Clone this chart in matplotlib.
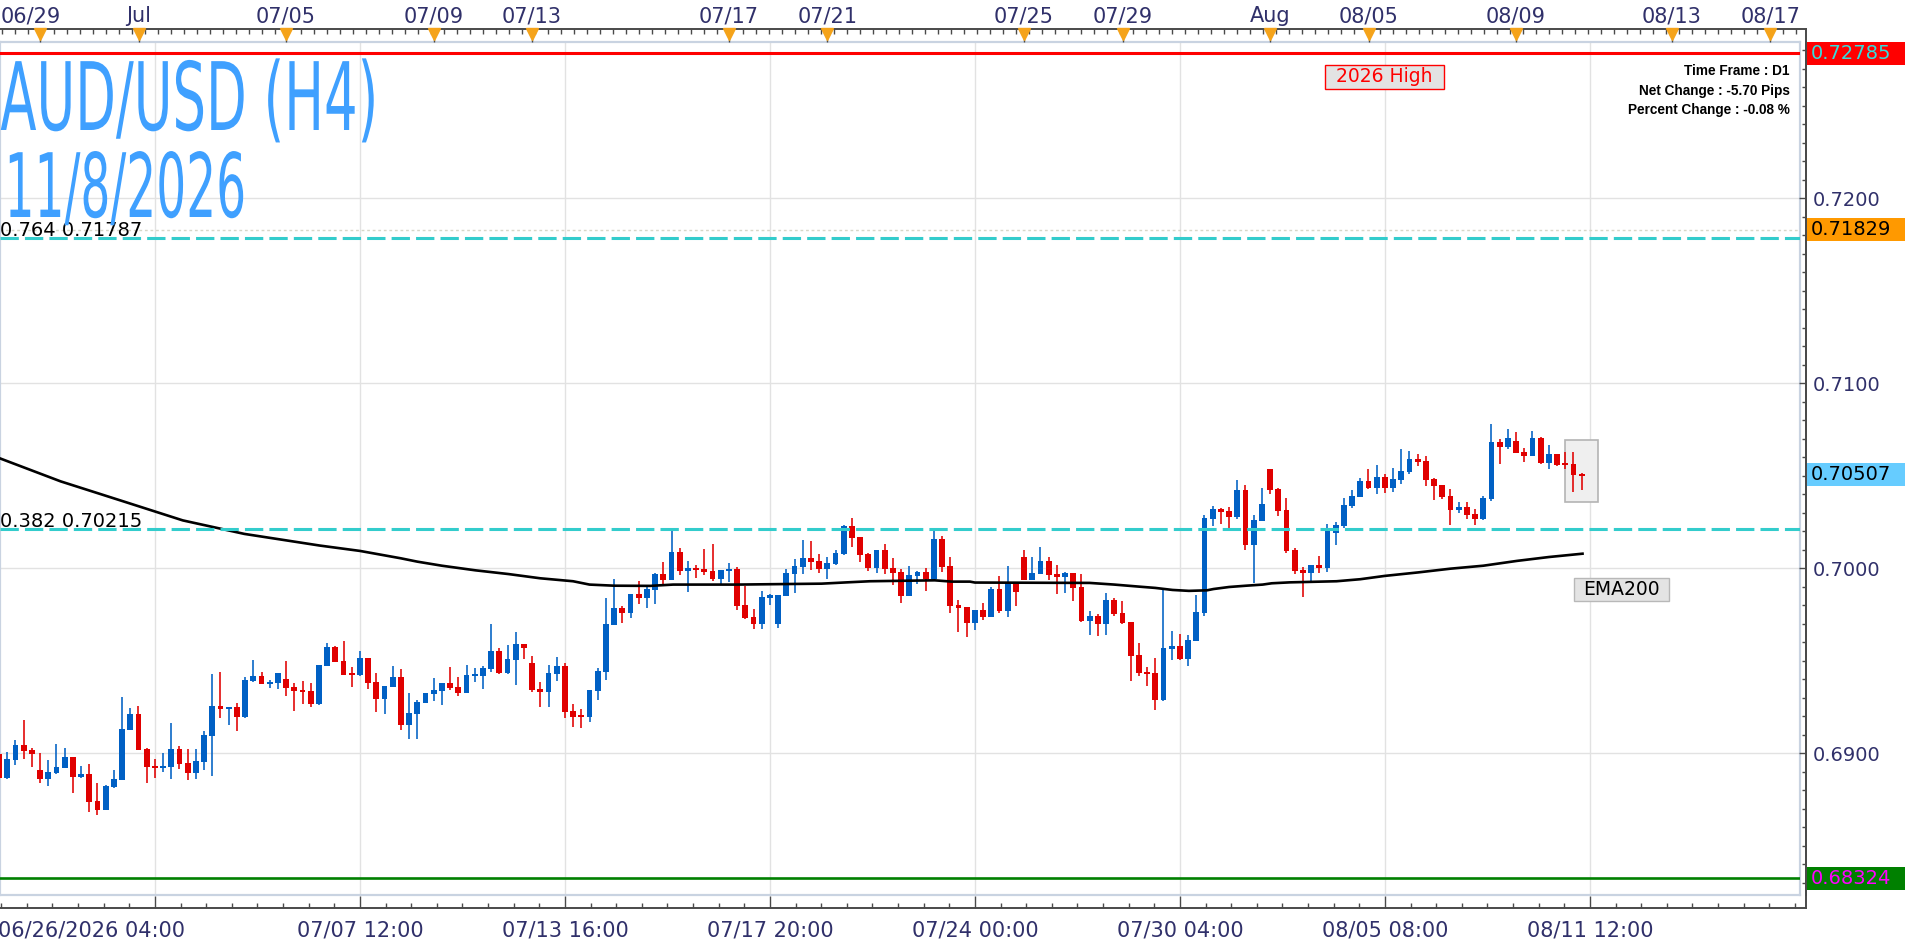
import matplotlib
matplotlib.use('Agg')
import numpy as np
import matplotlib.pyplot as plt
from matplotlib.patches import Rectangle
from matplotlib.lines import Line2D
from matplotlib.transforms import Affine2D, blended_transform_factory
from matplotlib.patheffects import AbstractPathEffect
from matplotlib.ticker import FixedLocator

# ---------------- data ----------------
opens = [0.68996, 0.68868, 0.68964, 0.69045, 0.69018, 0.68910, 0.68861, 0.68894, 0.68921, 0.68980,
         0.68872, 0.68888, 0.68742, 0.68694, 0.68818, 0.68856, 0.69126, 0.69213, 0.69023, 0.68932,
         0.68921, 0.68926, 0.69023, 0.68948, 0.68894, 0.68953, 0.69094, 0.69256, 0.69240, 0.69250,
         0.69196, 0.69391, 0.69418, 0.69375, 0.69380, 0.69402, 0.69359, 0.69342, 0.69337, 0.69267,
         0.69472, 0.69575, 0.69499, 0.69429, 0.69423, 0.69515, 0.69386, 0.69294, 0.69359, 0.69413,
         0.69153, 0.69213, 0.69272, 0.69321, 0.69337, 0.69380, 0.69359, 0.69326, 0.69420, 0.69418,
         0.69456, 0.69553, 0.69434, 0.69505, 0.69591, 0.69488, 0.69348, 0.69332, 0.69429, 0.69472,
         0.69229, 0.69202, 0.69196, 0.69337, 0.69440, 0.69694, 0.69786, 0.69759, 0.69861, 0.69840,
         0.69883, 0.69969, 0.69937, 0.70088, 0.69986, 0.70002, 0.69996, 0.69986, 0.69942, 0.69986,
         0.69996, 0.69802, 0.69737, 0.69699, 0.69840, 0.69699, 0.69850, 0.69969, 0.70007, 0.70056,
         0.70040, 0.69996, 0.70023, 0.70077, 0.70229, 0.70169, 0.70077, 0.70002, 0.70099, 0.70002,
         0.69980, 0.69850, 0.69959, 0.69980, 0.69942, 0.70159, 0.70013, 0.69802, 0.69791, 0.69705,
         0.69775, 0.69737, 0.69888, 0.69769, 0.69921, 0.70061, 0.69937, 0.69969, 0.70040, 0.69969,
         0.69953, 0.69975, 0.69899, 0.69715, 0.69742, 0.69699, 0.69829, 0.69759, 0.69710, 0.69532,
         0.69440, 0.69434, 0.69288, 0.69564, 0.69580, 0.69510, 0.69607, 0.69759, 0.70267, 0.70321,
         0.70310, 0.70277, 0.70423, 0.70126, 0.70256, 0.70537, 0.70429, 0.70315, 0.70099, 0.69991,
         0.69975, 0.70018, 0.70002, 0.70191, 0.70229, 0.70337, 0.70386, 0.70472, 0.70434, 0.70494,
         0.70434, 0.70477, 0.70521, 0.70591, 0.70580, 0.70483, 0.70450, 0.70391, 0.70315, 0.70332,
         0.70294, 0.70267, 0.70375, 0.70683, 0.70656, 0.70688, 0.70629, 0.70607, 0.70705, 0.70569,
         0.70618, 0.70564, 0.70564, 0.70510]
highs = [0.69006, 0.69005, 0.69072, 0.69180, 0.69027, 0.69002, 0.68964, 0.69050, 0.69029, 0.68980,
         0.68932, 0.68942, 0.68840, 0.68829, 0.68910, 0.69305, 0.69245, 0.69256, 0.69029, 0.68969,
         0.69002, 0.69164, 0.69040, 0.69023, 0.69023, 0.69121, 0.69429, 0.69440, 0.69250, 0.69272,
         0.69413, 0.69505, 0.69440, 0.69396, 0.69434, 0.69499, 0.69380, 0.69391, 0.69380, 0.69477,
         0.69596, 0.69580, 0.69607, 0.69467, 0.69553, 0.69515, 0.69434, 0.69364, 0.69472, 0.69456,
         0.69326, 0.69288, 0.69326, 0.69407, 0.69380, 0.69467, 0.69413, 0.69477, 0.69461, 0.69472,
         0.69699, 0.69569, 0.69586, 0.69656, 0.69591, 0.69526, 0.69386, 0.69477, 0.69521, 0.69488,
         0.69267, 0.69240, 0.69342, 0.69461, 0.69840, 0.69942, 0.69796, 0.69861, 0.69932, 0.69910,
         0.69975, 0.70034, 0.70202, 0.70110, 0.70040, 0.70018, 0.70105, 0.70132, 0.69991, 0.70029,
         0.70007, 0.69905, 0.69780, 0.69877, 0.69861, 0.69856, 0.69996, 0.70050, 0.70153, 0.70148,
         0.70077, 0.70061, 0.70099, 0.70234, 0.70272, 0.70169, 0.70083, 0.70099, 0.70132, 0.70056,
         0.69996, 0.70013, 0.69986, 0.70002, 0.70202, 0.70175, 0.70061, 0.69829, 0.69791, 0.69775,
         0.69813, 0.69899, 0.69959, 0.70013, 0.69921, 0.70099, 0.70061, 0.70115, 0.70061, 0.70018,
         0.69980, 0.69975, 0.69969, 0.69769, 0.69753, 0.69867, 0.69840, 0.69823, 0.69710, 0.69596,
         0.69467, 0.69515, 0.69883, 0.69661, 0.69647, 0.69640, 0.69856, 0.70288, 0.70337, 0.70326,
         0.70332, 0.70477, 0.70450, 0.70288, 0.70434, 0.70537, 0.70434, 0.70380, 0.70110, 0.70007,
         0.70018, 0.70067, 0.70240, 0.70250, 0.70380, 0.70423, 0.70488, 0.70537, 0.70559, 0.70510,
         0.70542, 0.70645, 0.70634, 0.70618, 0.70607, 0.70488, 0.70450, 0.70429, 0.70359, 0.70359,
         0.70321, 0.70391, 0.70780, 0.70699, 0.70753, 0.70737, 0.70650, 0.70742, 0.70710, 0.70667,
         0.70618, 0.70629, 0.70629, 0.70515]
lows = [0.68861, 0.68861, 0.68937, 0.68969, 0.68928, 0.68841, 0.68823, 0.68888, 0.68921, 0.68786,
        0.68868, 0.68683, 0.68667, 0.68694, 0.68813, 0.68856, 0.69126, 0.69018, 0.68840, 0.68867,
        0.68899, 0.68861, 0.68915, 0.68856, 0.68861, 0.68910, 0.68877, 0.69191, 0.69153, 0.69121,
        0.69191, 0.69386, 0.69375, 0.69353, 0.69348, 0.69310, 0.69229, 0.69267, 0.69250, 0.69261,
        0.69472, 0.69494, 0.69423, 0.69359, 0.69418, 0.69348, 0.69223, 0.69213, 0.69359, 0.69126,
        0.69077, 0.69077, 0.69272, 0.69283, 0.69261, 0.69342, 0.69310, 0.69326, 0.69386, 0.69348,
        0.69440, 0.69429, 0.69429, 0.69369, 0.69510, 0.69332, 0.69250, 0.69250, 0.69391, 0.69191,
        0.69142, 0.69137, 0.69169, 0.69288, 0.69396, 0.69694, 0.69705, 0.69732, 0.69807, 0.69786,
        0.69807, 0.69910, 0.69937, 0.69964, 0.69872, 0.69948, 0.69964, 0.69932, 0.69915, 0.69926,
        0.69775, 0.69726, 0.69672, 0.69672, 0.69802, 0.69677, 0.69850, 0.69867, 0.69969, 0.69991,
        0.69975, 0.69942, 0.70018, 0.70072, 0.70115, 0.70034, 0.69986, 0.69975, 0.69969, 0.69910,
        0.69813, 0.69850, 0.69915, 0.69877, 0.69942, 0.69980, 0.69759, 0.69656, 0.69629, 0.69667,
        0.69721, 0.69737, 0.69759, 0.69737, 0.69796, 0.69937, 0.69937, 0.69969, 0.69937, 0.69861,
        0.69867, 0.69823, 0.69710, 0.69640, 0.69634, 0.69640, 0.69742, 0.69699, 0.69391, 0.69418,
        0.69364, 0.69234, 0.69283, 0.69505, 0.69505, 0.69472, 0.69607, 0.69742, 0.70229, 0.70240,
        0.70213, 0.70267, 0.70099, 0.69921, 0.70256, 0.70402, 0.70283, 0.70083, 0.69969, 0.69845,
        0.69926, 0.69975, 0.69980, 0.70126, 0.70218, 0.70326, 0.70386, 0.70429, 0.70402, 0.70407,
        0.70413, 0.70456, 0.70510, 0.70553, 0.70445, 0.70369, 0.70375, 0.70234, 0.70299, 0.70267,
        0.70234, 0.70261, 0.70364, 0.70564, 0.70645, 0.70623, 0.70575, 0.70607, 0.70564, 0.70537,
        0.70553, 0.70537, 0.70413, 0.70423]
closes = [0.68868, 0.68969, 0.69045, 0.69013, 0.68996, 0.68861, 0.68899, 0.68926, 0.68980, 0.68874,
          0.68888, 0.68737, 0.68694, 0.68823, 0.68861, 0.69132, 0.69213, 0.69018, 0.68926, 0.68921,
          0.68932, 0.69023, 0.68942, 0.68894, 0.68959, 0.69099, 0.69256, 0.69240, 0.69250, 0.69196,
          0.69396, 0.69418, 0.69375, 0.69386, 0.69434, 0.69353, 0.69337, 0.69332, 0.69267, 0.69477,
          0.69575, 0.69494, 0.69423, 0.69425, 0.69515, 0.69380, 0.69294, 0.69364, 0.69413, 0.69153,
          0.69218, 0.69277, 0.69326, 0.69342, 0.69380, 0.69353, 0.69326, 0.69423, 0.69423, 0.69461,
          0.69553, 0.69434, 0.69510, 0.69591, 0.69571, 0.69342, 0.69332, 0.69434, 0.69472, 0.69223,
          0.69196, 0.69198, 0.69342, 0.69445, 0.69699, 0.69786, 0.69759, 0.69861, 0.69840, 0.69888,
          0.69969, 0.69937, 0.70088, 0.69986, 0.70002, 0.69991, 0.69980, 0.69942, 0.69991, 0.69996,
          0.69796, 0.69732, 0.69699, 0.69845, 0.69856, 0.69856, 0.69975, 0.70013, 0.70056, 0.70034,
          0.69996, 0.70029, 0.70083, 0.70229, 0.70164, 0.70072, 0.70002, 0.70099, 0.69996, 0.69975,
          0.69850, 0.69964, 0.69980, 0.69942, 0.70159, 0.70007, 0.69796, 0.69786, 0.69705, 0.69775,
          0.69737, 0.69888, 0.69769, 0.69921, 0.69872, 0.69937, 0.69975, 0.70040, 0.69964, 0.69953,
          0.69975, 0.69894, 0.69715, 0.69742, 0.69699, 0.69829, 0.69753, 0.69705, 0.69526, 0.69434,
          0.69429, 0.69288, 0.69569, 0.69580, 0.69510, 0.69613, 0.69764, 0.70272, 0.70321, 0.70305,
          0.70277, 0.70423, 0.70126, 0.70261, 0.70348, 0.70423, 0.70310, 0.70094, 0.69986, 0.69975,
          0.70018, 0.70002, 0.70202, 0.70234, 0.70342, 0.70391, 0.70472, 0.70434, 0.70494, 0.70434,
          0.70483, 0.70526, 0.70591, 0.70575, 0.70477, 0.70445, 0.70386, 0.70315, 0.70332, 0.70288,
          0.70267, 0.70380, 0.70683, 0.70656, 0.70705, 0.70623, 0.70607, 0.70705, 0.70569, 0.70618,
          0.70559, 0.70560, 0.70505, 0.70499]

ema_bars = [0, 7.5, 15, 22.4, 29.9, 39.1, 44.0, 49.0, 51.0, 54.0, 58.1, 62.1, 66.0, 70.0, 72.0,
            75.0, 79.4, 82.2, 90.0, 100.3, 103.4, 106.2, 114.1, 116.2, 118.4, 119.0, 133.0, 136.0,
            139.0, 141.0, 143.1, 145.1, 147.3, 148.1, 150.0, 152.1, 154.1, 155.2, 157.4, 163.1,
            166.0, 169.0, 173.1, 177.0, 181.0, 185.1, 189.0, 193.1]
ema_vals = [0.70596, 0.70470, 0.70364, 0.70259, 0.70186, 0.70123, 0.70094, 0.70054, 0.70036,
            0.70014, 0.69989, 0.69969, 0.69946, 0.69930, 0.69912, 0.69906, 0.69905, 0.69912,
            0.69912, 0.69917, 0.69924, 0.69930, 0.69935, 0.69928, 0.69928, 0.69923, 0.69921,
            0.69912, 0.69901, 0.69894, 0.69883, 0.69878, 0.69881, 0.69888, 0.69899, 0.69906,
            0.69912, 0.69919, 0.69924, 0.69930, 0.69941, 0.69959, 0.69978, 0.69998, 0.70014,
            0.70040, 0.70061, 0.70079]

high_2026 = 0.72785
low_level = 0.68324
fib_levels = [0.71787, 0.70215]
fib_labels = ['0.764 0.71787', '0.382 0.70215']
orange_level = 0.71829
last_price = 0.70507

price_ticks = [0.6900, 0.7000, 0.7100, 0.7200]
price_tick_labels = ['0.6900', '0.7000', '0.7100', '0.7200']

grid_bars = [19, 44, 69, 94, 119, 144, 169, 194]
bottom_labels = ['', '07/07 12:00', '07/13 16:00', '07/17 20:00', '07/24 00:00',
                 '07/30 04:00', '08/05 08:00', '08/11 12:00']
first_bottom_label = '06/26/2026 04:00'

top_bars = [5, 17, 35, 53, 65, 89, 101, 125, 137, 155, 167, 185, 204, 216]
top_labels = ['06/29', 'Jul', '07/05', '07/09', '07/13', '07/17', '07/21', '07/25',
              '07/29', 'Aug', '08/05', '08/09', '08/13', '08/17']

info_lines = ['Time Frame : D1', 'Net Change : -5.70 Pips', 'Percent Change : -0.08 %']

# ---------------- layout ----------------
W, H = 1907, 948
fig = plt.figure(figsize=(W / 100, H / 100), dpi=100)
fig.patch.set_facecolor('white')


def fx(px):
    return px / W


def fy(py):
    return 1 - py / H


PLOT_R, PLOT_T, PLOT_B = 1800, 42, 895
AX_R, AX_T, AX_B = 1806, 29, 908
BAR_PX, BAR0_PX = 8.2, -0.9


def px2bar(px):
    return (px - BAR0_PX) / BAR_PX


YMIN, YMAX = 0.68234, 0.72845
UNIT_PER_PX = (YMAX - YMIN) / (PLOT_B - PLOT_T)

NAVY = '#30306a'
AXCOL = '#4a4a4a'


class Squeeze(AbstractPathEffect):
    """Horizontally condense a text path about its left ink edge."""

    def __init__(self, sx):
        super().__init__()
        self.sx = sx

    def draw_path(self, renderer, gc, tpath, affine, rgbFace=None):
        ext = tpath.get_extents(affine)
        x0 = ext.x0
        aff = affine + Affine2D().translate(-x0, 0).scale(self.sx, 1.0).translate(x0, 0)
        renderer.draw_path(gc, tpath, aff, rgbFace)


# main plot
ax = fig.add_axes([0, fy(PLOT_B), fx(PLOT_R), (PLOT_B - PLOT_T) / H])
ax.set_xlim(px2bar(0), px2bar(PLOT_R))
ax.set_ylim(YMIN, YMAX)
ax.set_facecolor('white')
for s in ax.spines.values():
    s.set_color('#c9d3e1')
    s.set_linewidth(1.6)
ax.set_xticks(grid_bars)
ax.set_yticks(price_ticks)
ax.tick_params(length=0, labelbottom=False, labelleft=False)
ax.grid(True, color='#e2e2e2', lw=1.0)
ax.set_axisbelow(True)

# level lines
ax.axhline(high_2026, color='#ff0000', lw=2.2, zorder=5)
ax.axhline(low_level, color='#008000', lw=1.9, zorder=5)
ax.axhline(orange_level, color='#d6d6c8', lw=1.0, ls=(0, (2, 2)), zorder=1)
for lv in fib_levels:
    ax.axhline(lv, color='#33cccc', lw=2.2, ls=(0, (6, 2)), zorder=5)
for lv, lab in zip(fib_levels, fib_labels):
    ax.text(px2bar(0), lv + 2 * UNIT_PER_PX, lab, ha='left', va='baseline',
            fontsize=14, color='black', zorder=6)

# highlight box around the latest candles
ax.add_patch(Rectangle((190.95, 0.70358), 4.05, 0.00336, fc='#efefef', ec='#b4b4b4',
                       lw=1.2, zorder=2.5))

# candles
o = np.array(opens)
h = np.array(highs)
l = np.array(lows)
c = np.array(closes)
idx = np.arange(len(o))
cols = np.where(c >= o, '#0060c4', '#e00000')
ax.vlines(idx, l, h, colors=cols, lw=1.15, zorder=3)
body_b = np.minimum(o, c)
body_h = np.maximum(np.abs(c - o), 1.3 * UNIT_PER_PX)
ax.bar(idx, body_h, bottom=body_b, width=0.72, color=cols, lw=0, zorder=3.5)

# EMA200
ax.plot(ema_bars, ema_vals, color='black', lw=1.9, zorder=4)

# right price axis
axr = fig.add_axes([fx(PLOT_R), fy(PLOT_B), fx(AX_R - PLOT_R), (PLOT_B - PLOT_T) / H])
axr.set_ylim(YMIN, YMAX)
axr.patch.set_visible(False)
axr.set_xticks([])
for k in ('left', 'top', 'bottom'):
    axr.spines[k].set_visible(False)
axr.spines['right'].set_color(AXCOL)
axr.spines['right'].set_linewidth(1.4)
axr.yaxis.tick_right()
axr.set_yticks(price_ticks, labels=price_tick_labels)
axr.yaxis.set_minor_locator(FixedLocator(np.arange(0.683, 0.7285, 0.001)))
axr.tick_params(axis='y', which='major', direction='in', length=5, width=1.0,
                color=AXCOL, labelcolor=NAVY, labelsize=14, pad=5)
axr.tick_params(axis='y', which='minor', direction='in', length=3, width=1.0, color=AXCOL)

fig.add_artist(Line2D([fx(AX_R), fx(AX_R)], [fy(AX_T), fy(AX_B)], color=AXCOL, lw=1.4))

# coloured price labels
trans = blended_transform_factory(fig.transFigure, ax.transData)
for val, fc, tc in [(high_2026, '#ff0000', '#33dddd'), (orange_level, '#ff9900', 'black'),
                    (last_price, '#66ccff', 'black'), (low_level, '#008000', '#ff00ff')]:
    hh = 11.5 * UNIT_PER_PX
    fig.add_artist(Rectangle((fx(AX_R + 1), val - hh), fx(98), 2 * hh, transform=trans,
                             fc=fc, ec='none', clip_on=False))
    fig.text(fx(AX_R + 5), val, f'{val:.5f}', transform=trans, ha='left', va='center',
             fontsize=14, color=tc)

# top date axis
axt = fig.add_axes([0, fy(PLOT_T), fx(AX_R), (PLOT_T - AX_T) / H])
axt.set_xlim(px2bar(0), px2bar(AX_R))
axt.set_ylim(0, 1)
axt.patch.set_visible(False)
axt.set_yticks([])
for k in ('left', 'right', 'bottom'):
    axt.spines[k].set_visible(False)
axt.spines['top'].set_color(AXCOL)
axt.spines['top'].set_linewidth(1.4)
axt.xaxis.tick_top()
axt.set_xticks(top_bars, labels=[''] + top_labels[1:])
axt.xaxis.set_minor_locator(FixedLocator(np.arange(0.4, 221, 1.585)))
axt.tick_params(axis='x', which='major', direction='in', length=9, width=1.0, color=AXCOL,
                labelcolor=NAVY, labelsize=15, pad=2)
axt.tick_params(axis='x', which='minor', direction='in', length=3.5, width=1.0, color=AXCOL)
axt.annotate(top_labels[0], xy=(px2bar(1), 1), xycoords=axt.get_xaxis_transform(),
             xytext=(0, 2), textcoords='offset points', ha='left', va='bottom',
             fontsize=15, color=NAVY, annotation_clip=False)
axt.plot(top_bars, [0.58] * len(top_bars), ls='none', marker='v', ms=8.5, color='#f5a31a',
         mec='#f5a31a', clip_on=False, zorder=5)

# bottom time axis
axb = fig.add_axes([0, fy(AX_B), fx(AX_R), (AX_B - PLOT_B) / H])
axb.set_xlim(px2bar(0), px2bar(AX_R))
axb.set_ylim(0, 1)
axb.patch.set_visible(False)
axb.set_yticks([])
for k in ('left', 'right', 'top'):
    axb.spines[k].set_visible(False)
axb.spines['bottom'].set_color(AXCOL)
axb.spines['bottom'].set_linewidth(1.4)
axb.set_xticks(grid_bars, labels=bottom_labels)
axb.xaxis.set_minor_locator(FixedLocator(np.arange(grid_bars[0] - 25, 221, 25 / 8)))
axb.tick_params(axis='x', which='major', direction='in', length=8.5, width=1.0, color=AXCOL,
                labelcolor=NAVY, labelsize=15, pad=9)
axb.tick_params(axis='x', which='minor', direction='in', length=3.5, width=1.0, color=AXCOL)
axb.annotate(first_bottom_label, xy=(11.3, 0), xycoords=axb.get_xaxis_transform(),
             xytext=(0, -9), textcoords='offset points', ha='center', va='top',
             fontsize=15, color=NAVY, annotation_clip=False)

# title
fig.text(fx(0), fy(130), 'AUD/USD (H4)', fontsize=68, color='#3fa0ff', ha='left',
         va='baseline', path_effects=[Squeeze(0.56)])
fig.text(fx(0), fy(217), '11/8/2026', fontsize=64, color='#3fa0ff', ha='left',
         va='baseline', path_effects=[Squeeze(0.53)])

# info box
for i, line in enumerate(info_lines):
    fig.text(fx(1790), fy(71 + 19.5 * i), line, ha='right', va='center', fontsize=9.8,
             fontweight='bold', family=['Liberation Sans', 'DejaVu Sans'], color='black')

# "2026 High" tag
fig.add_artist(Rectangle((fx(1325), fy(89)), fx(119), 24 / H, fc='#e3e3e3', ec='#ff0000',
                         lw=1.0))
fig.text(fx(1384.5), fy(77), '2026 High', ha='center', va='center', fontsize=13.5,
         color='#ff0000')

# EMA200 tag
fig.add_artist(Rectangle((fx(1574), fy(601)), fx(95), 23 / H, fc='#e4e4e4', ec='#b8b8b8',
                         lw=1.0))
fig.text(fx(1621.5), fy(589.5), 'EMA200', ha='center', va='center', fontsize=13.5,
         color='black')

fig.savefig('out.png', dpi=100)
